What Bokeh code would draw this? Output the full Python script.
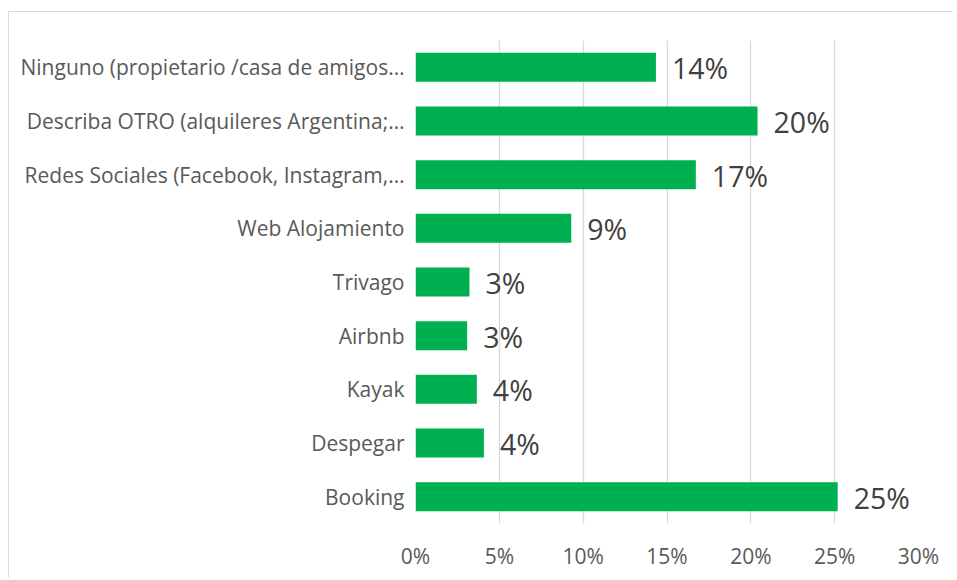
from bokeh.plotting import figure
from bokeh.models import FactorRange, Range1d, FixedTicker, NumeralTickFormatter, ColumnDataSource
from bokeh.core.properties import value
from bokeh.embed import file_html
from bokeh.resources import INLINE

categories = [
    "Booking",
    "Despegar",
    "Kayak",
    "Airbnb",
    "Trivago",
    "Web Alojamiento",
    "Redes Sociales (Facebook, Instagram,…",
    "Describa OTRO (alquileres Argentina;…",
    "Ninguno (propietario /casa de amigos…",
]
shares = [0.2518, 0.0408, 0.0366, 0.0308, 0.0322, 0.0929, 0.1672, 0.2040, 0.1434]
x_ticks = [0, 0.05, 0.10, 0.15, 0.20, 0.25, 0.30]

labels = [f"{round(v * 100)}%" for v in shares]
src = ColumnDataSource(dict(cat=categories, val=shares, lab=labels))

FONT = "Open Sans"

p = figure(
    width=945, height=566,
    y_range=FactorRange(factors=categories),
    x_range=Range1d(0, 0.30),
    output_backend="svg", toolbar_location=None,
    min_border_left=406, min_border_right=36, min_border_top=28, min_border_bottom=55,
    styles={"margin-left": "8px", "margin-top": "11px",
            "border-left": "1.5px solid #d9d9d9", "border-top": "1.5px solid #d9d9d9"},
)
p.outline_line_color = None
p.background_fill_color = "white"
p.border_fill_color = "white"

p.hbar(y="cat", right="val", left=0, height=0.54, source=src,
       fill_color="#00B050", line_color=None)

p.text(x="val", y="cat", text="lab", source=src, x_offset=16, y_offset=1,
       text_font=value(FONT), text_font_size="28.5px", text_color="#404040",
       text_baseline="middle", text_align="left")

p.xaxis.ticker = FixedTicker(ticks=x_ticks)
p.xaxis.formatter = NumeralTickFormatter(format="0%")
p.xaxis.axis_line_color = None
p.xaxis.major_tick_line_color = None
p.xaxis.minor_tick_line_color = None
p.xaxis.major_label_text_font = FONT
p.xaxis.major_label_text_font_size = "21px"
p.xaxis.major_label_text_color = "#595959"
p.xaxis.major_label_standoff = 12

p.yaxis.axis_line_color = None
p.yaxis.major_tick_line_color = None
p.yaxis.minor_tick_line_color = None
p.yaxis.major_label_text_font = FONT
p.yaxis.major_label_text_font_size = "21px"
p.yaxis.major_label_text_color = "#595959"
p.yaxis.major_label_standoff = 5

p.xgrid.ticker = FixedTicker(ticks=x_ticks)
p.xgrid.grid_line_color = "#d9d9d9"
p.xgrid.grid_line_width = 1.3
p.ygrid.grid_line_color = None

open("out.html", "w").write(file_html(p, INLINE))
